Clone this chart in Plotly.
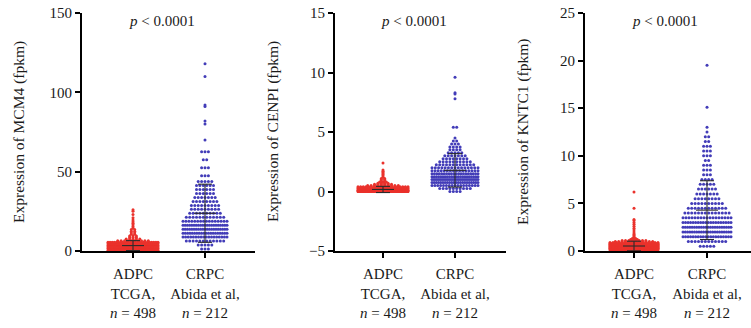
import numpy as np
import plotly.graph_objects as go

# ---------------- data ----------------
categories = ["ADPC<br>TCGA,<br><i>n</i> = 498", "CRPC<br>Abida et al,<br><i>n</i> = 212"]
genes = ["MCM4", "CENPI", "KNTC1"]
p_label = "<i>p</i> < 0.0001"

y_ranges = [[0, 150], [-5, 15], [0, 25]]
y_ticks = [[0, 50, 100, 150], [-5, 0, 5, 10, 15], [0, 5, 10, 15, 20, 25]]

# expression value (fpkm) and number of samples at about that value
mcm4_adpc_values = [0.5, 1.5, 2.5, 3.5, 4.5, 5.5, 6.5, 7.5, 8.5, 9.5, 10.5, 11.5, 12.5, 13.5,
                    14.5, 15.5, 16.5, 17.5, 18.5, 19.5, 21, 23, 25, 26]
mcm4_adpc_counts = [60, 95, 109, 100, 70, 25, 10, 5, 3, 3, 2, 2, 2, 2,
                    1, 1, 1, 1, 1, 1, 1, 1, 1, 1]
mcm4_crpc_values = [1.25, 3.75, 6.25, 8.75, 11.25, 13.75, 16.25, 18.75, 21.25, 23.75, 26.25,
                    28.75, 31.25, 33.75, 36.25, 38.75, 41.25, 43.75, 47.5, 52.5, 57.5, 62.5,
                    70, 80, 82, 91, 92, 110, 118]
mcm4_crpc_counts = [3, 5, 12, 18, 20, 21, 21, 16, 12, 10, 9,
                    9, 8, 7, 6, 6, 6, 5, 3, 3, 2, 3,
                    1, 1, 1, 1, 1, 1, 1]

cenpi_adpc_values = [0.0, 0.1, 0.2, 0.3, 0.4, 0.5, 0.6, 0.7, 0.8, 0.9, 1.0, 1.1, 1.2, 1.3,
                     1.4, 1.5, 1.6, 1.7, 1.8, 2.4]
cenpi_adpc_counts = [160, 150, 91, 40, 20, 10, 6, 4, 3, 2, 2, 2, 1, 1,
                     1, 1, 1, 1, 1, 1]
cenpi_crpc_values = [0.0, 0.25, 0.5, 0.75, 1.0, 1.25, 1.5, 1.75, 2.0, 2.25, 2.5, 2.75, 3.0,
                     3.25, 3.5, 3.75, 4.0, 4.25, 4.5, 5.4, 7.8, 8.2, 8.3, 9.6]
cenpi_crpc_counts = [4, 10, 17, 22, 24, 22, 20, 16, 15, 12, 10, 8, 7,
                     5, 4, 4, 3, 2, 1, 2, 1, 1, 1, 1]

kntc1_adpc_values = [0.1, 0.2, 0.3, 0.4, 0.5, 0.6, 0.7, 0.8, 0.9, 1.0, 1.1, 1.2, 1.3, 1.4,
                     1.5, 1.6, 1.7, 1.8, 2.0, 2.2, 2.4, 2.6, 2.8, 3.0, 3.2, 3.3, 4.5, 6.2]
kntc1_adpc_counts = [45, 70, 76, 75, 65, 50, 35, 25, 17, 12, 8, 3, 2, 1,
                     1, 1, 1, 1, 1, 1, 1, 1, 1, 1, 1, 1, 1, 1]
kntc1_crpc_values = [0.5, 1.0, 1.5, 2.0, 2.5, 3.0, 3.5, 4.0, 4.5, 5.0, 5.5, 6.0, 6.5, 7.0,
                     7.5, 8.0, 8.5, 9.0, 9.5, 10.0, 10.5, 11.0, 11.5, 12.0, 12.5, 13.0, 15.1, 19.5]
kntc1_crpc_counts = [5, 12, 20, 22, 22, 20, 17, 14, 12, 10, 8, 7, 6, 5,
                     4, 3, 3, 3, 2, 3, 3, 3, 2, 2, 1, 1, 1, 1]

panels = [
    [(mcm4_adpc_values, mcm4_adpc_counts), (mcm4_crpc_values, mcm4_crpc_counts)],
    [(cenpi_adpc_values, cenpi_adpc_counts), (cenpi_crpc_values, cenpi_crpc_counts)],
    [(kntc1_adpc_values, kntc1_adpc_counts), (kntc1_crpc_values, kntc1_crpc_counts)],
]

# ---------------- layout / style ----------------
W, H = 751, 328
FONT = "Liberation Serif"
RED = "rgb(234,50,44)"
BLUE = "rgb(66,60,184)"
group_colors = [RED, BLUE]

# plot areas in pixels: (left, right, first tick x, second tick x)
px_boxes = [(82, 255, 133, 205), (335, 506, 383, 455), (585, 751, 634, 707)]
y_top, y_bot = 13, 251
ydom = [1 - y_bot / H, 1 - y_top / H]
title_x = [19, 273, 523]
p_x = [162, 414, 665]
max_w = [[50, 44], [50, 46], [48, 48]]


def swarm(values, counts, center, unit_px, maxw_px, sp_px=3.4):
    xs, ys = [], []
    for v, c in zip(values, counts):
        if c == 1:
            offs = np.array([0.0])
        else:
            w = min((c - 1) * sp_px, maxw_px)
            offs = np.linspace(-w / 2, w / 2, c)
        xs.extend(center + offs / unit_px)
        ys.extend([v] * c)
    return xs, ys


fig = go.Figure()
annotations = []

for i in range(3):
    left, right, t1, t2 = px_boxes[i]
    unit = t2 - t1
    xr = [1 - (t1 - left) / unit, 1 + (right - t1) / unit]
    sfx = "" if i == 0 else str(i + 1)
    xa, ya = "x" + sfx, "y" + sfx

    for g in range(2):
        vals, cnts = panels[i][g]
        xs, ys = swarm(vals, cnts, g + 1, unit, max_w[i][g])
        fig.add_trace(go.Scatter(
            x=xs, y=ys, mode="markers", xaxis=xa, yaxis=ya,
            marker=dict(size=3.0, color=group_colors[g], line=dict(width=0)),
            cliponaxis=False, hoverinfo="skip"))

    # mean ± SD bars computed from the data
    lx, ly = [], []
    for g in range(2):
        vals, cnts = panels[i][g]
        arr = np.repeat(np.array(vals, dtype=float), cnts)
        m, s = arr.mean(), arr.std(ddof=1)
        c = g + 1
        hm, hc = 11 / unit, 7 / unit
        lo = max(m - s, y_ranges[i][0])
        lx += [c - hm, c + hm, None, c, c, None, c - hc, c + hc, None, c - hc, c + hc, None]
        ly += [m, m, None, lo, m + s, None, m + s, m + s, None, lo, lo, None]
    fig.add_trace(go.Scatter(x=lx, y=ly, mode="lines", xaxis=xa, yaxis=ya,
                             line=dict(color="#2b2b2b", width=1.1),
                             cliponaxis=False, hoverinfo="skip"))

    axis_common = dict(showline=True, linewidth=2, linecolor="black", ticks="outside",
                       ticklen=5, tickwidth=2, tickcolor="black", showgrid=False,
                       zeroline=False, automargin=False, fixedrange=True,
                       tickfont=dict(family=FONT, size=15, color="#1a1a1a"))
    fig.update_layout(**{
        ("xaxis" + sfx): dict(domain=[left / W, right / W], range=xr, anchor=ya,
                              tickvals=[1, 2], ticktext=categories, ticklabelstandoff=3,
                              **axis_common),
        ("yaxis" + sfx): dict(domain=ydom, range=y_ranges[i], anchor=xa,
                              tickvals=y_ticks[i],
                              ticktext=[("\u2212" + str(abs(t))) if t < 0 else str(t) for t in y_ticks[i]],
                              **axis_common),
    })

    annotations.append(dict(x=title_x[i] / W, y=1 - 132 / H, xref="paper", yref="paper",
                            text=f"Expression of {genes[i]} (fpkm)", textangle=-90,
                            showarrow=False, xanchor="center", yanchor="middle",
                            font=dict(family=FONT, size=15.5, color="#1a1a1a")))
    annotations.append(dict(x=p_x[i] / W, y=1 - 21 / H, xref="paper", yref="paper",
                            text=p_label, showarrow=False, xanchor="center", yanchor="middle",
                            font=dict(family=FONT, size=15, color="#1a1a1a")))

fig.update_layout(width=W, height=H, margin=dict(l=0, r=0, t=0, b=0, autoexpand=False),
                  paper_bgcolor="white", plot_bgcolor="white", showlegend=False,
                  annotations=annotations)

fig.write_html("out.html")
